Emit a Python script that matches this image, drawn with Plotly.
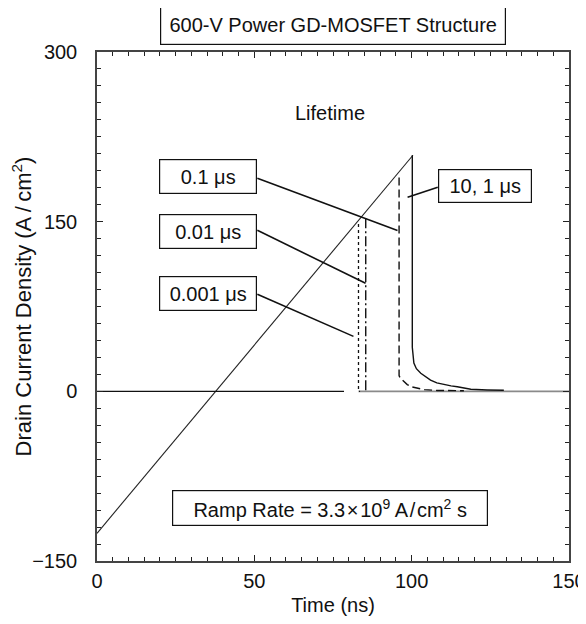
import plotly.graph_objects as go

# ---------------- data ----------------
ramp_t = [0, 100.4]
ramp_j = [-125.5, 208.7]

base_t = [0, 78.5]
base_j = [0, 0]

zero_t = [83.1, 150]
zero_j = [0, 0]

t_0001 = [83.1, 83.1, 83.6]
j_0001 = [148, 0, 0]

t_001 = [85.4, 85.4, 86.0]
j_001 = [153, 0, 0]

t_01 = [96.0, 96.0, 96.3, 97.0, 98.6, 100.0, 101.8, 104.0, 108.0, 116.6]
j_01 = [189, 14, 12, 10, 6, 4, 2.6, 1.5, 0.8, 0.5]

t_10 = [100.2, 100.2, 100.7, 101.5, 102.9, 104.5, 106.0, 108.0, 110.2, 112.5, 114.5, 118.8, 124.0, 129.3]
j_10 = [208.7, 39, 25, 20, 16, 12.5, 10, 7.5, 6, 4.8, 4.0, 1.8, 1.2, 0.9]

x_ticks = [0, 50, 100, 150]
y_ticks = [-150, 0, 150, 300]
y_tick_text = ["\u2212150", "0", "150", "300"]

FONT = "Liberation Sans, Arial, sans-serif"
BLACK = "#111111"

fig = go.Figure()

fig.add_trace(go.Scatter(x=ramp_t, y=ramp_j, mode="lines",
                         line=dict(color="#222222", width=1.1)))
fig.add_trace(go.Scatter(x=base_t, y=base_j, mode="lines",
                         line=dict(color=BLACK, width=1.4)))
fig.add_trace(go.Scatter(x=zero_t, y=zero_j, mode="lines",
                         line=dict(color="#8a8a8a", width=1.6)))
fig.add_trace(go.Scatter(x=t_0001, y=j_0001, mode="lines",
                         line=dict(color=BLACK, width=1.3, dash="dot")))
fig.add_trace(go.Scatter(x=t_001, y=j_001, mode="lines",
                         line=dict(color=BLACK, width=1.4, dash="10px,3px,2px,3px")))
fig.add_trace(go.Scatter(x=t_01, y=j_01, mode="lines",
                         line=dict(color=BLACK, width=1.4, dash="8px,4px")))
fig.add_trace(go.Scatter(x=t_10, y=j_10, mode="lines",
                         line=dict(color=BLACK, width=1.4)))

# leader lines
leaders = [
    ((50.96, 188.3), (95.5, 142.3)),
    ((50.96, 142.4), (85.35, 95.5)),
    ((50.96, 85.8), (81.5, 48.6)),
    ((108.3, 180.4), (98.7, 171.5)),
]
for (x0, y0), (x1, y1) in leaders:
    fig.add_shape(type="line", x0=x0, y0=y0, x1=x1, y1=y1, xref="x", yref="y",
                  line=dict(color=BLACK, width=1.6))

box = dict(showarrow=False, bordercolor=BLACK, borderwidth=1.2, borderpad=2,
           bgcolor="white", xanchor="center", yanchor="middle",
           font=dict(family=FONT, size=20, color=BLACK))

fig.add_annotation(x=35.2, y=190.1, text="0.1 \u03bcs", width=92, height=29, **box)
fig.add_annotation(x=35.2, y=141.5, text="0.01 \u03bcs", width=92, height=29, **box)
fig.add_annotation(x=35.2, y=86.6, text="0.001 \u03bcs", width=92, height=29, **box)
fig.add_annotation(x=123.2, y=181.7, text="10, 1 \u03bcs", width=88, height=28, **box)
fig.add_annotation(x=74.2, y=-103, text="Ramp Rate = 3.3\u200a\u00d7\u200a10<sup>9</sup> A\u200a/\u200acm<sup>2</sup> s",
                   width=310, height=30, **box)
fig.add_annotation(x=0.5, y=1.053, xref="paper", yref="paper",
                   text="600-V Power GD-MOSFET Structure", width=340, height=34, **box)
fig.add_annotation(x=74.2, y=245.8, text="Lifetime", showarrow=False,
                   font=dict(family=FONT, size=20, color=BLACK))

axis_common = dict(showline=True, linecolor="#444444", linewidth=1.5, mirror="allticks",
                   ticks="inside", ticklen=6, tickcolor="#222222", tickwidth=1.4,
                   showgrid=False, zeroline=False,
                   tickfont=dict(family=FONT, size=20, color=BLACK))

fig.update_xaxes(range=[0, 150], tickmode="array", tickvals=x_ticks,
                 minor=dict(dtick=5, ticks="inside", ticklen=4, tickcolor="#222222", tickwidth=1.2),
                 title=dict(text="Time (ns)", font=dict(family=FONT, size=20, color=BLACK), standoff=7),
                 ticklabelstandoff=1,
                 **axis_common)
fig.update_yaxes(range=[-150, 300], tickmode="array", tickvals=y_ticks, ticktext=y_tick_text,
                 minor=dict(dtick=15, ticks="inside", ticklen=4, tickcolor="#222222", tickwidth=1.2),
                 title=dict(text="Drain Current Density (A\u2009/\u2009cm<sup>2</sup>)",
                            font=dict(family=FONT, size=22, color=BLACK), standoff=4),
                 ticklabelstandoff=14,
                 **axis_common)

fig.update_layout(width=578, height=616, showlegend=False,
                  margin=dict(l=89, r=17, t=44, b=63, autoexpand=False),
                  paper_bgcolor="white", plot_bgcolor="white",
                  font=dict(family=FONT, size=20, color=BLACK))

fig.write_html("out.html")
